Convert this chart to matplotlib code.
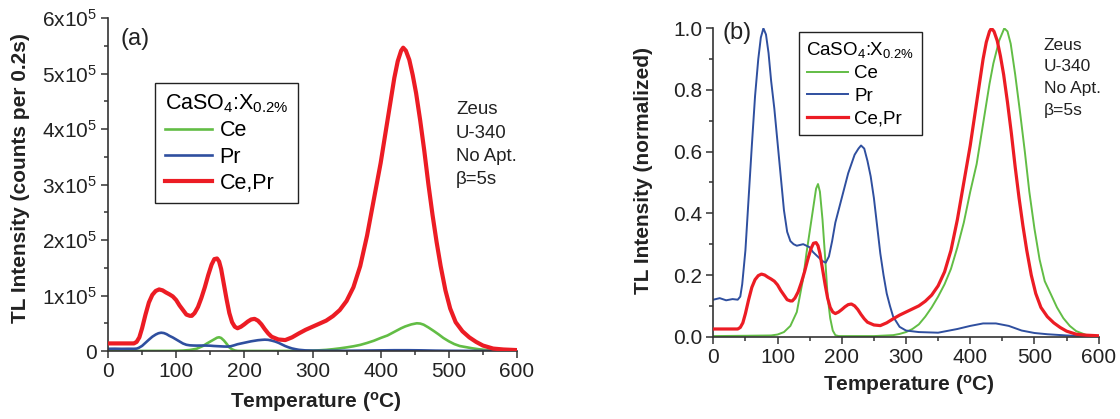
#!/usr/bin/env python3
"""TL glow curves of CaSO4:X 0.2% (Ce, Pr, Ce+Pr): raw counts and normalized."""

import matplotlib
matplotlib.use("Agg")
import matplotlib.pyplot as plt
import numpy as np
from matplotlib.ticker import FixedLocator, MultipleLocator, FormatStrFormatter

plt.rcParams["font.family"] = ["Liberation Sans", "DejaVu Sans"]
plt.rcParams["mathtext.fontset"] = "custom"
plt.rcParams["mathtext.rm"] = "Liberation Sans"
plt.rcParams["mathtext.it"] = "Liberation Sans:italic"
plt.rcParams["mathtext.bf"] = "Liberation Sans:bold"

# --- data (normalized shapes, peak counts off panel a) ---
pr_temp = [0, 10, 20, 30, 38, 42, 45, 50, 55, 60, 65, 70, 74, 78, 82, 86, 90, 95,
           100, 105, 110, 115, 120, 125, 130, 140, 150, 155, 160, 165, 170, 175,
           180, 185, 190, 200, 210, 220, 226, 230, 235, 240, 245, 250, 255, 260,
           265, 270, 275, 280, 290, 300, 320, 350, 380, 400, 420, 440, 460, 480,
           500, 520, 550, 580, 600]
pr_norm = [0.12, 0.125, 0.118, 0.122, 0.12, 0.13, 0.17, 0.28, 0.45, 0.62, 0.78, 0.90,
           0.97, 1.0, 0.98, 0.92, 0.83, 0.74, 0.63, 0.52, 0.41, 0.34, 0.31, 0.30,
           0.295, 0.30, 0.29, 0.275, 0.265, 0.255, 0.245, 0.24, 0.26, 0.31, 0.37,
           0.45, 0.53, 0.59, 0.61, 0.62, 0.61, 0.57, 0.52, 0.45, 0.36, 0.27, 0.20,
           0.14, 0.10, 0.065, 0.032, 0.02, 0.015, 0.013, 0.025, 0.035, 0.043,
           0.043, 0.035, 0.02, 0.012, 0.008, 0.004, 0.002, 0.0]

ce_temp = [0, 50, 90, 100, 110, 120, 130, 140, 145, 150, 155, 160, 163, 166, 170,
           174, 178, 182, 186, 190, 195, 200, 250, 280, 290, 300, 310, 320, 330,
           340, 350, 360, 370, 380, 390, 400, 410, 420, 430, 436, 445, 453, 458,
           463, 470, 478, 485, 492, 500, 508, 516, 525, 535, 545, 555, 565, 580, 600]
ce_norm = [0.002, 0.003, 0.004, 0.007, 0.015, 0.035, 0.08, 0.19, 0.27, 0.34, 0.41,
           0.48, 0.495, 0.47, 0.38, 0.26, 0.13, 0.06, 0.02, 0.005, 0.002, 0.002,
           0.002, 0.005, 0.009, 0.015, 0.025, 0.04, 0.065, 0.095, 0.13, 0.17, 0.22,
           0.29, 0.37, 0.47, 0.56, 0.69, 0.82, 0.886, 0.96, 1.0, 0.99, 0.95, 0.85,
           0.72, 0.6, 0.47, 0.35, 0.25, 0.18, 0.14, 0.095, 0.06, 0.035, 0.018,
           0.006, 0.001]

cepr_temp = [0, 20, 38, 42, 46, 50, 55, 60, 65, 70, 75, 80, 85, 90, 95, 100, 105,
             110, 115, 120, 123, 127, 132, 137, 142, 147, 152, 156, 160, 163, 166,
             170, 174, 178, 182, 186, 190, 195, 200, 205, 210, 215, 220, 225, 230,
             235, 240, 250, 260, 270, 280, 290, 300, 310, 320, 330, 340, 350, 360,
             370, 380, 390, 400, 410, 420, 425, 430, 433, 437, 442, 447, 452, 458,
             464, 470, 476, 482, 488, 495, 502, 510, 520, 530, 540, 550, 565, 580, 600]
cepr_norm = [0.025, 0.025, 0.025, 0.03, 0.045, 0.075, 0.12, 0.16, 0.185, 0.198,
             0.203, 0.2, 0.193, 0.187, 0.18, 0.168, 0.15, 0.135, 0.12, 0.116, 0.116,
             0.125, 0.145, 0.175, 0.21, 0.25, 0.285, 0.303, 0.305, 0.295, 0.27,
             0.22, 0.17, 0.125, 0.095, 0.08, 0.075, 0.08, 0.088, 0.097, 0.104,
             0.106, 0.1, 0.088, 0.072, 0.058, 0.047, 0.038, 0.036, 0.045, 0.058,
             0.07, 0.08, 0.09, 0.1, 0.115, 0.135, 0.165, 0.21, 0.28, 0.38, 0.5,
             0.62, 0.76, 0.9, 0.955, 0.99, 1.0, 0.99, 0.96, 0.91, 0.85, 0.76, 0.66,
             0.55, 0.45, 0.36, 0.28, 0.2, 0.14, 0.095, 0.065, 0.045, 0.03, 0.018,
             0.008, 0.005, 0.003]

ce_peak = 5.0e4
pr_peak = 3.3e4
cepr_peak = 5.47e5

series = [
    ("Ce", ce_temp, ce_norm, ce_peak, "#62bd45"),
    ("Pr", pr_temp, pr_norm, pr_peak, "#2f4f9f"),
    ("Ce,Pr", cepr_temp, cepr_norm, cepr_peak, "#ec1c24"),
]

raw_yticks = [0, 1e5, 2e5, 3e5, 4e5, 5e5, 6e5]
raw_ylabels = ["0"] + [f"{i}x10$^5$" for i in range(1, 7)]
info_lines = ["Zeus", "U-340", "No Apt.", "\u03b2=5s"]
legend_title = "CaSO$_4$:X$_{0.2\\%}$"
axis_color = "#333333"
text_color = "#222222"

W, H = 1120, 419
fig = plt.figure(figsize=(W / 100, H / 100), dpi=100)


def px_axes(x0, x1, ytop, ybot):
    return fig.add_axes([x0 / W, (H - ybot) / H, (x1 - x0) / W, (ybot - ytop) / H])


def style(ax):
    for side in ("top", "right"):
        ax.spines[side].set_visible(False)
    for side in ("left", "bottom"):
        ax.spines[side].set_color(axis_color)
        ax.spines[side].set_linewidth(1.2)
    ax.tick_params(which="both", direction="out", colors=axis_color, width=1.1,
                   labelcolor=text_color, labelsize=15, pad=3)
    ax.tick_params(which="major", length=5)
    ax.tick_params(which="minor", length=3)
    ax.set_xlim(0, 600)
    ax.xaxis.set_major_locator(MultipleLocator(100))
    ax.xaxis.set_minor_locator(MultipleLocator(50))


def legend(ax, anchor, fontsize, lws, spacing, pad):
    leg = ax.legend(loc="upper left", bbox_to_anchor=anchor, bbox_transform=fig.transFigure,
                    title=legend_title, title_fontsize=fontsize, fontsize=fontsize,
                    frameon=True, fancybox=False, framealpha=1, edgecolor=text_color,
                    handlelength=2.2, handletextpad=0.35, labelspacing=spacing,
                    borderpad=pad, borderaxespad=0, alignment="left")
    leg.get_frame().set_linewidth(1.0)
    for line, lw in zip(leg.get_lines(), lws):
        line.set_linewidth(lw)
    return leg


def labels(ax, ylabel, xcoords, ycoords):
    ax.set_xlabel("Temperature ($^{\\mathbf{o}}$C)", fontsize=15, fontweight="bold",
                  color=text_color)
    ax.set_ylabel(ylabel, fontsize=15, fontweight="bold", color=text_color)
    ax.xaxis.set_label_coords(*xcoords)
    ax.xaxis.label.set_verticalalignment("center")
    ax.yaxis.set_label_coords(*ycoords)
    ax.yaxis.label.set_verticalalignment("center")


# ---- panel (a): raw counts ----
ax1 = px_axes(108, 517, 18.3, 351)
style(ax1)
lw_a = [1.9, 1.9, 3.0]
for (name, t, v, peak, color), lw in zip(series, lw_a):
    ax1.plot(t, np.array(v) * peak, color=color, lw=lw, label=name,
             zorder=3 if name == "Ce,Pr" else 2)
ax1.set_ylim(0, 6e5)
ax1.yaxis.set_major_locator(FixedLocator(raw_yticks))
ax1.set_yticklabels(raw_ylabels)
ax1.yaxis.set_minor_locator(MultipleLocator(0.5e5))
labels(ax1, "TL Intensity (counts per 0.2s)", (0.508, -0.153), (-0.215, 0.52))
fig.text(121 / W, 1 - 39 / H, "(a)", fontsize=17, ha="left", va="center", color=text_color)
for i, s in enumerate(info_lines):
    fig.text(456 / W, 1 - (110 + 23.3 * i) / H, s, fontsize=13.4, ha="left", va="center",
             color=text_color)
legend(ax1, (155 / W, 1 - 83 / H), 15.5, lw_a, 0.24, 0.45)

# ---- panel (b): normalized ----
ax2 = px_axes(713.3, 1098.7, 28.3, 336.7)
style(ax2)
lw_b = [1.4, 1.4, 2.3]
for (name, t, v, peak, color), lw in zip(series, lw_b):
    v = np.array(v)
    ax2.plot(t, v / v.max(), color=color, lw=lw, label=name,
             zorder=3 if name == "Ce,Pr" else 2)
ax2.set_ylim(0, 1.0)
ax2.yaxis.set_major_locator(MultipleLocator(0.2))
ax2.yaxis.set_minor_locator(MultipleLocator(0.1))
ax2.yaxis.set_major_formatter(FormatStrFormatter("%.1f"))
labels(ax2, "TL Intensity (normalized)", (0.508, -0.157), (-0.182, 0.54))
fig.text(722 / W, 1 - 33 / H, "(b)", fontsize=17, ha="left", va="center", color=text_color)
for i, s in enumerate(info_lines):
    fig.text(1044 / W, 1 - (45 + 21.7 * i) / H, s, fontsize=12.5, ha="left", va="center",
             color=text_color)
legend(ax2, (799 / W, 1 - 32 / H), 13.5, lw_b, 0.3, 0.4)

fig.savefig("out.png", dpi=100)
print("Saved out.png")
